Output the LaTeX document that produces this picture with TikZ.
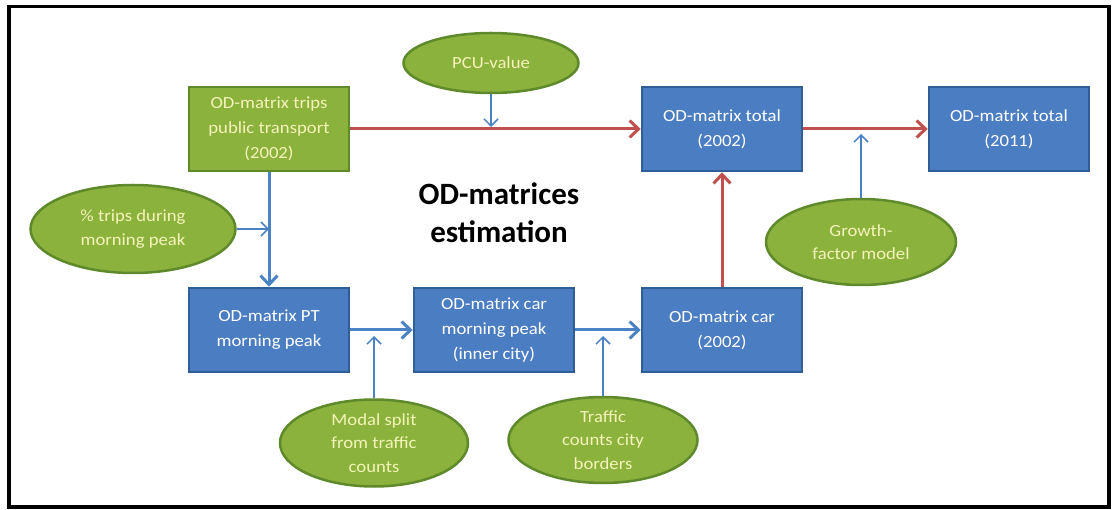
\documentclass[tikz,border=0pt]{standalone}
\usepackage{fontspec}
\setmainfont{Carlito}
\newfontfamily\labelfont[FakeStretch=1.1]{Carlito}
\usetikzlibrary{shapes.geometric,arrows.meta}

\definecolor{boxgreen}{HTML}{8BB23C}
\definecolor{greenedge}{HTML}{5F8A2C}
\definecolor{boxblue}{HTML}{4A7DC2}
\definecolor{blueedge}{HTML}{2F5E96}
\definecolor{flowred}{HTML}{C0504D}
\definecolor{flowblue}{HTML}{4A82C4}
\definecolor{paleyellow}{HTML}{F4F4B8}

\begin{document}
\begin{tikzpicture}[x=1pt,y=-1pt,
  box/.style={rectangle, minimum width=160pt, minimum height=84pt, inner sep=0pt,
    line width=2.5pt, align=center, font=\labelfont\fontsize{17}{25}\selectfont},
  greenbox/.style={box, fill=boxgreen, draw=greenedge, text=paleyellow},
  bluebox/.style={box, fill=boxblue, draw=blueedge, text=white},
  inputshape/.style={ellipse, fill=boxgreen, draw=greenedge, line width=2.5pt, inner sep=0pt},
  inputtext/.style={align=center, inner sep=0pt, text=paleyellow,
    font=\labelfont\fontsize{17}{23.5}\selectfont},
  mainred/.style={draw=flowred, line width=3pt, -{Straight Barb[length=9pt,width=17pt]}},
  mainblue/.style={draw=flowblue, line width=3pt, -{Straight Barb[length=9pt,width=17pt]}},
  feed/.style={draw=flowblue, line width=1.5pt, -{Straight Barb[length=7pt,width=14pt]}}
]
\useasboundingbox (0,0) rectangle (1114,510);
\fill[white] (0,0) rectangle (1114,510);
\draw[line width=3.5pt] (9,6.5) rectangle (1109,507);

% matrices
\node[greenbox] (pt2002)  at (269,129) {OD-matrix trips\\public transport\\(2002)};
\node[bluebox]  (tot2002) at (722,129) {OD-matrix total\\(2002)};
\node[bluebox]  (tot2011) at (1009,129) {OD-matrix total\\(2011)};
\node[bluebox]  (ptpeak)  at (269,330) {OD-matrix PT\\morning peak};
\node[bluebox]  (carpeak) at (494,330) {OD-matrix car\\morning peak\\(inner city)};
\node[bluebox]  (car2002) at (722,330) {OD-matrix car\\(2002)};

% input data
\node[inputshape, minimum width=175pt, minimum height=60pt] (pcu) at (491,63) {};
\node[inputtext] (pcutext) at (pcu) {PCU-value};
\node[inputshape, minimum width=205pt, minimum height=88pt] (share) at (133,229) {};
\node[inputtext] (sharetext) at (share) {\% trips during\\morning peak};
\node[inputshape, minimum width=190pt, minimum height=86pt] (growth) at (861,242) {};
\node[inputtext] (growthtext) at (growth) {Growth-\\factor model};
\node[inputshape, minimum width=188pt, minimum height=87pt] (modal) at (374,443) {};
\node[inputtext] (modaltext) at (modal) {Modal split\\from traffic\\counts};
\node[inputshape, minimum width=189pt, minimum height=86pt] (counts) at (603,440) {};
\node[inputtext] (countstext) at (counts) {Traffic\\counts city\\borders};

% title
\node[align=center, inner sep=0pt, font=\bfseries\fontsize{31}{38}\selectfont] (title)
  at (499,213) {OD-matrices\\estimation};

% main flow
\draw[mainred] (pt2002.east) -- (tot2002.west);
\draw[mainred] (tot2002.east) -- (tot2011.west);
\draw[mainred] (car2002.north) -- (tot2002.south);
\draw[mainblue] (pt2002.south) -- (ptpeak.north);
\draw[mainblue] (ptpeak.east) -- (carpeak.west);
\draw[mainblue] (carpeak.east) -- (car2002.west);

% feeding arrows
\coordinate (pcutip) at (491,127);
\coordinate (sharetip) at (269,229);
\coordinate (growthtip) at (861,134);
\coordinate (modaltip) at (374,336);
\coordinate (countstip) at (603,336);
\draw[feed] (pcu.south) -- (pcutip);
\draw[feed] (share.east) -- (sharetip);
\draw[feed] (growth.north) -- (growthtip);
\draw[feed] (modal.north) -- (modaltip);
\draw[feed] (counts.north) -- (countstip);
\end{tikzpicture}
\end{document}
